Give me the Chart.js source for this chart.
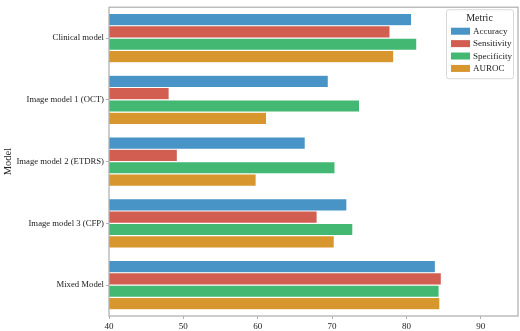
<!DOCTYPE html>
<html>
<head>
<meta charset="utf-8">
<script src="https://cdn.jsdelivr.net/npm/chart.js@4/dist/chart.umd.min.js"></script>
<style>
  html, body { margin: 0; padding: 0; background: #fff; }
  #wrap { width: 520px; height: 331px; position: relative; }
</style>
</head>
<body>
<div id="wrap"><canvas id="modelChart"></canvas></div>
<script>
// Modeller ve metrik değerleri
const models = ['Clinical model', 'Image model 1 (OCT)', 'Image model 2 (ETDRS)', 'Image model 3 (CFP)', 'Mixed Model'];
const metricNames = ['Accuracy', 'Sensitivity', 'Specificity', 'AUROC'];
const accuracy = [80.7, 69.5, 66.4, 72.0, 83.9];
const sensitivity = [77.8, 48.1, 49.2, 68.0, 84.7];
const specificity = [81.4, 73.7, 70.4, 72.8, 84.4];
const auroc = [78.3, 61.2, 59.8, 70.3, 84.5];
const xTicks = [40, 50, 60, 70, 80, 90];

const colors = ['#4994c6', '#d25e51', '#42b873', '#d7962e'];
const serif = "'Liberation Serif', 'DejaVu Serif', serif";

// Eksen çerçevesi (dört kenar)
const framePlugin = {
    id: 'frame',
    afterDatasetsDraw(chart) {
        const a = chart.chartArea;
        const c = chart.ctx;
        c.save();
        c.strokeStyle = '#b0b0b0';
        c.lineWidth = 1.25;
        c.strokeRect(a.left, a.top, a.right - a.left, a.bottom - a.top);
        c.restore();
    }
};

// Grafik içindeki lejant kutusu
const legendPlugin = {
    id: 'innerLegend',
    afterDraw(chart) {
        const a = chart.chartArea;
        const c = chart.ctx;
        const x0 = a.right - 72, y0 = a.top + 2, w = 67, h = 69;
        c.save();
        c.fillStyle = 'rgba(255,255,255,0.8)';
        c.strokeStyle = '#d8d8d8';
        c.lineWidth = 1;
        c.beginPath();
        c.roundRect(x0 + 0.5, y0 + 0.5, w, h, 2);
        c.fill();
        c.stroke();
        c.fillStyle = '#222';
        c.font = '10px ' + serif;
        c.textAlign = 'center';
        c.textBaseline = 'middle';
        c.fillText('Metric', x0 + w / 2, y0 + 9);
        c.font = '9px ' + serif;
        c.textAlign = 'left';
        chart.data.datasets.forEach((ds, i) => {
            const yy = y0 + 22 + i * 12.4;
            c.fillStyle = ds.backgroundColor;
            c.fillRect(x0 + 5, yy - 3.5, 19, 7);
            c.fillStyle = '#222';
            c.fillText(ds.label, x0 + 27, yy + 0.5);
        });
        c.restore();
    }
};

(function () {
    "use strict";

    const ctx = document.getElementById('modelChart').getContext('2d');
    const seriesValues = [accuracy, sensitivity, specificity, auroc];

    new Chart(ctx, {
        type: 'bar',
        data: {
            labels: models,
            datasets: metricNames.map((name, i) => ({
                label: name,
                data: seriesValues[i],
                backgroundColor: colors[i],
                borderColor: 'rgba(255,255,255,0.35)',
                borderWidth: 0.6,
                categoryPercentage: 0.8,
                barPercentage: 1.0
            }))
        },
        options: {
            indexAxis: 'y',
            responsive: true,
            maintainAspectRatio: false,
            animation: false,
            layout: { padding: { top: 5, right: 2, left: 0, bottom: 0 } },
            plugins: {
                legend: { display: false },
                tooltip: { enabled: false }
            },
            scales: {
                x: {
                    min: 40,
                    max: 95,
                    afterFit(scale) { scale.height = 15; },
                    afterBuildTicks(scale) { scale.ticks = xTicks.map(v => ({ value: v })); },
                    grid: { drawOnChartArea: false, drawTicks: true, tickLength: 3, color: '#b0b0b0', tickColor: '#b0b0b0' },
                    border: { display: false },
                    ticks: { color: '#222', font: { family: serif, size: 9 }, padding: 2, maxRotation: 0 }
                },
                y: {
                    afterFit(scale) { scale.width = 109; },
                    grid: { offset: false, drawOnChartArea: false, drawTicks: true, tickLength: 3, color: '#b0b0b0', tickColor: '#b0b0b0' },
                    border: { display: false },
                    ticks: { color: '#222', font: { family: serif, size: 8.7 }, padding: 2 },
                    title: { display: true, text: 'Model', color: '#222', font: { family: serif, size: 10.5 }, padding: { top: 2, bottom: 0 } }
                }
            }
        },
        plugins: [framePlugin, legendPlugin]
    });
})();
</script>
</body>
</html>
